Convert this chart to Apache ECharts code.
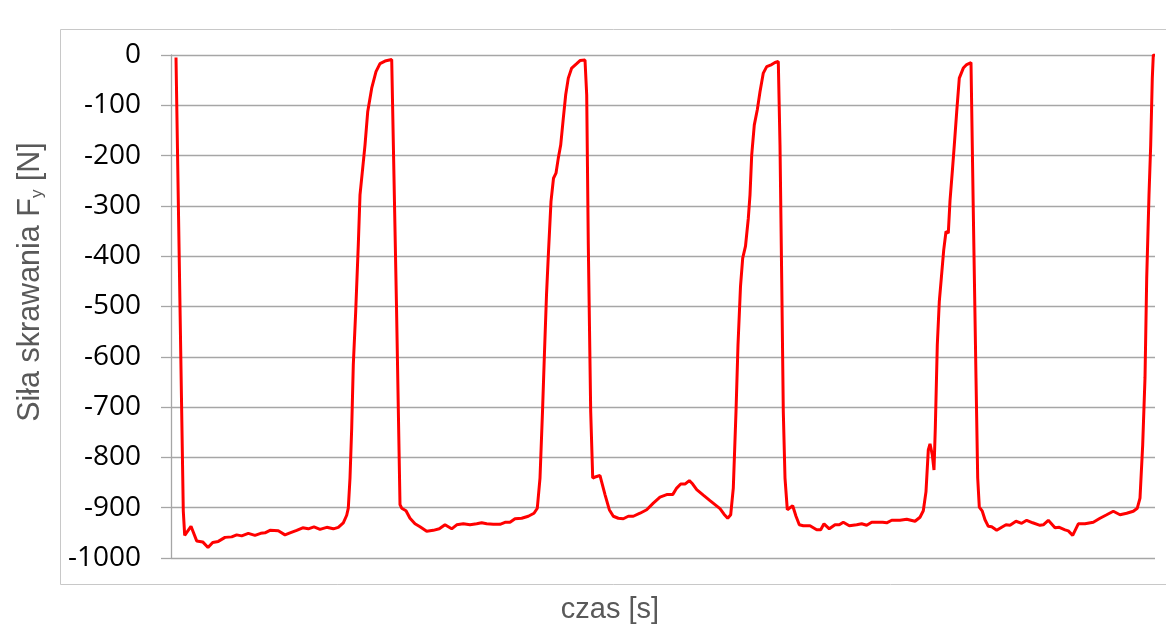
<!DOCTYPE html>
<html>
<head>
<meta charset="utf-8">
<script src="https://cdn.jsdelivr.net/npm/echarts@6/dist/echarts.min.js"></script>
<style>
html,body{margin:0;padding:0;background:#fff;}
#chart{width:1166px;height:640px;}
</style>
</head>
<body>
<div id="chart"></div>
<script>
// time (arbitrary units, axis unlabeled) and cutting force Fy [N]
var czas = [
5,12.3,13.7,20,25.7,31.7,37,41.7,47.3,54,60.7,65.7,70.7,77.3,84,89.7,94,99,107.3,114,119,125.7,131.7,137.3,143,149,155.7,162.3,167.3,
172.3,175.7,177.3,179,180.7,182.3,184.7,187.3,189,191.7,194,196.7,200.7,205,209,214,220.7,
221.7,225.5,229,230.7,235,239,244,249,255.7,262.3,268.3,274,280.7,285.7,292.3,299,305.7,310.7,315.7,322.3,329,334,339,344,350.7,357.3,363,
366.3,369,371.5,373.5,375.5,377.5,380,382.5,385,387.3,389.7,392.3,394.7,397.3,400.7,405.7,409,414,
415.7,417.3,419.7,421.7,424,429,434,438.3,442.3,447.3,452.3,457.3,462.3,469,475.7,482.3,489,495.7,501.7,505.7,509.7,514,518.3,521.7,525.7,532.3,539,544,549,553,556.7,
559.7,562.3,565,567,569.5,571.7,574.5,577.3,579,580.7,583.3,586.3,589,592.3,595.7,600.7,604,607.3,
609,610.7,612.3,614,616.3,617.3,621.7,625,628.3,632.3,639,645.7,649.7,653,658.3,664,668.3,672.3,678.3,685.7,690.7,695.7,700.7,707.3,711.7,715.7,720.7,729,735.7,744,749,
752.3,755,757.3,759,761.3,763,764.3,766.3,768.3,770.3,772.7,775,777.3,779,781.3,783.3,785.7,788.3,792.3,795.7,800,
802.3,805,806.7,808.3,811.3,814,817.3,820.7,825.7,830.7,835,839,845,850.7,855.7,861.7,869,872.3,877.3,884,888.3,894,897.3,901.7,907.3,914,922.3,929,935.7,942.3,949,955.7,962.3,
966.3,969,971.7,974,975.7,978,979.7,981.3,982.3,984
];
var silaFy = [
-5,-907,-955,-937,-966,-968,-979,-969,-967,-959,-958,-954,-956,-951,-955,-951,-950,-945,-946,-954,-950,-945,-940,-942,-938,-943,-939,-942,-939,
-930,-915,-901,-841,-742,-616,-510,-377,-278,-225,-179,-113,-66,-33,-17,-12,-9,
-8,-500,-894,-901,-906,-921,-932,-938,-947,-945,-942,-934,-942,-934,-932,-934,-932,-930,-932,-933,-933,-929,-929,-922,-921,-917,-911,
-901,-841,-709,-590,-477,-391,-291,-245,-235,-205,-179,-126,-79,-46,-26,-17,-11,-10,
-79,-377,-709,-841,-839,-836,-874,-904,-917,-921,-922,-917,-917,-911,-904,-891,-879,-874,-874,-861,-853,-853,-846,-853,-864,-875,-886,-894,-902,-913,-921,
-914,-861,-709,-576,-460,-404,-380,-325,-278,-199,-139,-109,-73,-36,-23,-19,-15,-13,
-179,-444,-709,-841,-904,-906,-896,-917,-934,-936,-936,-944,-944,-932,-942,-934,-934,-929,-936,-934,-932,-935,-929,-929,-929,-930,-925,-925,-923,-927,-919,
-906,-868,-785,-773,-795,-825,-742,-576,-490,-444,-388,-351,-354,-290,-232,-179,-113,-46,-26,-19,-15,
-311,-642,-841,-899,-907,-924,-937,-938,-945,-939,-934,-935,-927,-931,-925,-930,-935,-934,-925,-940,-939,-944,-946,-955,-932,-932,-929,-921,-914,-907,-914,-911,-907,
-901,-881,-775,-642,-444,-278,-179,-46,0,0
];
var yTicks = [0,-100,-200,-300,-400,-500,-600,-700,-800,-900,-1000];
var yTitle = 'Siła skrawania F';
var ySub = 'y';
var yUnit = ' [N]';
var xTitle = 'czas [s]';

var data = czas.map(function(t,i){ return [t, silaFy[i]]; });

var chart = echarts.init(document.getElementById('chart'), null, {renderer:'canvas'});
var gridColor = '#a6a6a6';
chart.setOption({
  animation: false,
  backgroundColor: '#ffffff',
  grid: {left: 171, top: 55, right: 11, bottom: 82, containLabel: false},
  xAxis: {
    type: 'value', min: 0, max: 984,
    axisLine: {show: false}, axisTick: {show: false}, axisLabel: {show: false}, splitLine: {show: false}
  },
  yAxis: {
    type: 'value', min: -1000, max: 0, interval: 100,
    axisLine: {show: true, lineStyle: {color: gridColor, width: 1.3}},
    axisTick: {show: true, length: 10, lineStyle: {color: gridColor, width: 1.3}},
    axisLabel: {
      margin: 30, color: '#000000', fontFamily: 'Open Sans', fontSize: 28,
      formatter: function(v){ return yTicks.indexOf(v) >= 0 ? String(v) : ''; }
    },
    splitLine: {show: true, lineStyle: {color: gridColor, width: 1.3}}
  },
  graphic: [
    {type: 'rect', silent: true, z: -10,
     shape: {x: 60.5, y: 29.5, width: 1130, height: 555},
     style: {fill: 'none', stroke: '#c8c8c8', lineWidth: 1}},
    {type: 'text', x: 28, y: 282, rotation: Math.PI/2,
     style: {
       text: '{m|' + yTitle + '}{s|' + ySub + '}{m|' + yUnit + '}',
       align: 'center', verticalAlign: 'middle',
       rich: {
         m: {fontFamily: 'Liberation Sans', fontSize: 30.5, fill: '#595959', verticalAlign: 'bottom', lineHeight: 36},
         s: {fontFamily: 'Liberation Sans', fontSize: 17, fill: '#595959', verticalAlign: 'bottom', lineHeight: 27}
       }
     }},
    {type: 'text', x: 610, y: 610,
     style: {text: xTitle, fontFamily: 'Liberation Sans', fontSize: 29, fill: '#595959', align: 'center', verticalAlign: 'middle'}}
  ],
  series: [{
    type: 'line', data: data, showSymbol: false, smooth: false,
    lineStyle: {color: '#ff0000', width: 3}, z: 5
  }]
});
</script>
</body>
</html>
